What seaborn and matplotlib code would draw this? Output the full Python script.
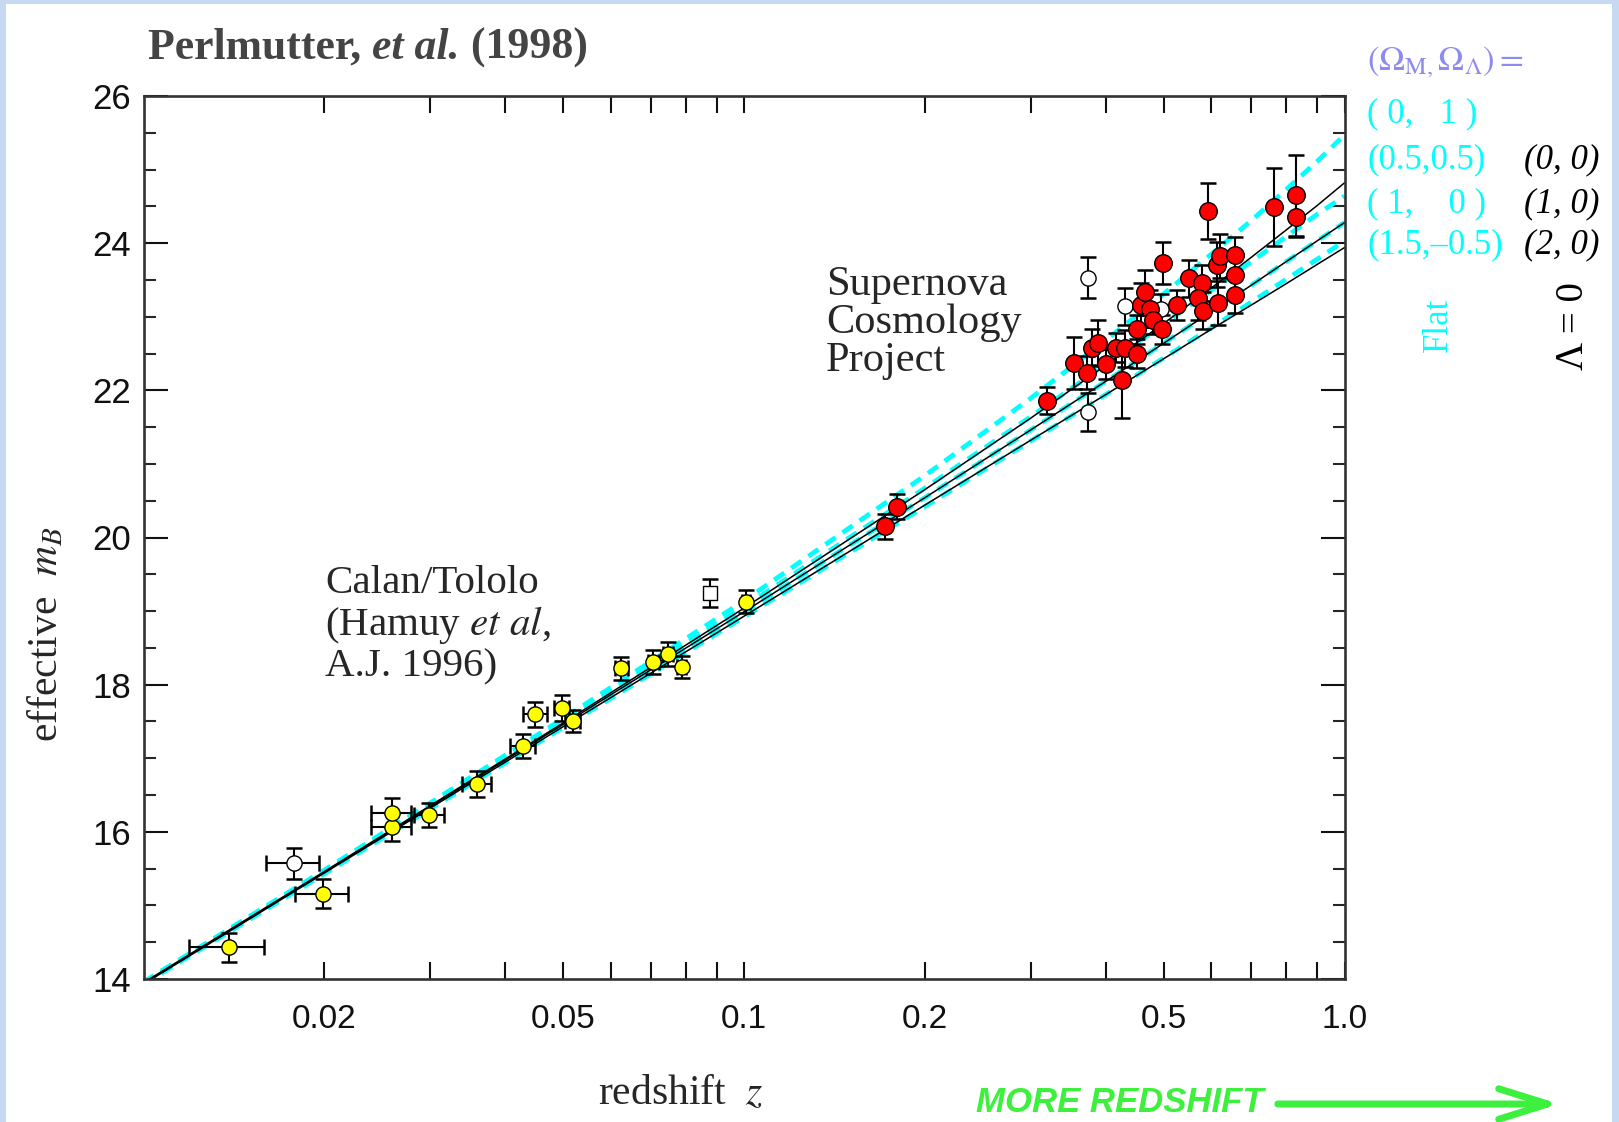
import pandas as pd
import matplotlib
matplotlib.use('Agg')
import matplotlib.pyplot as plt
from matplotlib.ticker import FixedLocator, MultipleLocator, NullFormatter
from matplotlib.patches import Rectangle, FancyArrowPatch
import seaborn as sns

# --- model curves, magnitudes ---
z_model = [0.01, 0.02, 0.05, 0.1, 0.2, 0.3, 0.4, 0.5, 0.6, 0.7, 0.8, 0.9, 1.0]
# Lambda = 0 models (black solid)
m_00 = [13.95, 15.46, 17.48, 19.04, 20.65, 21.62, 22.34, 22.91, 23.39, 23.81, 24.18, 24.51, 24.82]
m_10 = [13.94, 15.45, 17.46, 18.99, 20.54, 21.46, 22.12, 22.64, 23.07, 23.43, 23.75, 24.03, 24.28]
m_20 = [13.93, 15.44, 17.43, 18.93, 20.44, 21.32, 21.94, 22.43, 22.83, 23.16, 23.45, 23.71, 23.94]
# flat models (cyan dashed)
m_f01 = [13.96, 15.48, 17.54, 19.14, 20.84, 21.89, 22.68, 23.31, 23.85, 24.31, 24.73, 25.11, 25.47]
m_f55 = [13.95, 15.47, 17.50, 19.06, 20.67, 21.64, 22.35, 22.90, 23.36, 23.75, 24.09, 24.39, 24.64]
m_f15 = [13.93, 15.43, 17.42, 18.92, 20.42, 21.31, 21.94, 22.44, 22.85, 23.20, 23.51, 23.78, 24.03]

# --- Calan/Tololo supernovae ---
ct_z = [0.0139, 0.0199, 0.0259, 0.0259, 0.0299, 0.0359, 0.0428, 0.0449, 0.0497, 0.0519,
        0.0625, 0.0706, 0.0748, 0.0787, 0.1007]
ct_m = [14.43, 15.16, 16.07, 16.26, 16.23, 16.65, 17.17, 17.60, 17.68, 17.51,
        18.22, 18.31, 18.42, 18.24, 19.13]
ct_merr = [0.20, 0.20, 0.19, 0.20, 0.16, 0.17, 0.16, 0.17, 0.18, 0.15,
           0.15, 0.16, 0.16, 0.15, 0.16]
ct_zerr = [0.0020, 0.0020, 0.0020, 0.0020, 0.0017, 0.0020, 0.0020, 0.0020, 0.0015, 0.0015,
           0.0015, 0.0015, 0.0015, 0.0015, 0.0015]
# excluded low-z ones (open)
ct_open_z = [0.0178]
ct_open_m = [15.57]
ct_open_merr = [0.21]
ct_open_zerr = [0.0018]
sq_open_z = [0.0878]
sq_open_m = [19.25]
sq_open_merr = [0.19]

# --- Supernova Cosmology Project ---
scp_z = [0.1717, 0.1797, 0.320, 0.3545, 0.3722, 0.3795, 0.389, 0.401, 0.4165, 0.431,
         0.4256, 0.4508, 0.4508, 0.4584, 0.4655, 0.4746, 0.4806, 0.4972, 0.4985, 0.5256,
         0.5516, 0.5785, 0.571, 0.582, 0.5919, 0.6125, 0.6166, 0.6207, 0.6573, 0.6573,
         0.6573, 0.7643, 0.8307, 0.8307]
scp_m = [20.15, 20.42, 21.86, 22.37, 22.24, 22.58, 22.65, 22.36, 22.58, 22.57,
         22.14, 22.50, 22.83, 23.16, 23.33, 23.11, 22.96, 22.83, 23.73, 23.16,
         23.52, 23.46, 23.26, 23.08, 24.44, 23.71, 23.19, 23.83, 23.84, 23.57,
         23.30, 24.49, 24.65, 24.35]
scp_merr = [0.17, 0.17, 0.18, 0.35, 0.22, 0.25, 0.30, 0.20, 0.20, 0.25,
            0.52, 0.20, 0.20, 0.30, 0.30, 0.25, 0.20, 0.20, 0.29, 0.20,
            0.25, 0.25, 0.30, 0.25, 0.38, 0.30, 0.30, 0.30, 0.25, 0.25,
            0.25, 0.53, 0.55, 0.27]
scp_open_z = [0.3746, 0.3746, 0.431, 0.494]
scp_open_m = [23.53, 21.71, 23.14, 23.11]
scp_open_merr = [0.28, 0.26, 0.25, 0.20]

cyan = '#00ffff'
green = '#3df03d'

sns.set_style('ticks')
plt.rcParams['font.family'] = ['Liberation Serif', 'DejaVu Serif']
plt.rcParams['mathtext.fontset'] = 'stix'

W, H = 1619, 1122
fig = plt.figure(figsize=(W / 100, H / 100), dpi=100)
fig.patch.set_facecolor('#c6d9f0')
fig.add_artist(Rectangle((6 / W, 0), (1612 - 6) / W, 1 - 4 / H, transform=fig.transFigure,
                         facecolor='white', edgecolor='none', zorder=-5))

ax = fig.add_axes([143.5 / W, 1 - 979 / H, (1344.5 - 143.5) / W, (979 - 96) / H])
ax.set_xscale('log')

flat_df = pd.concat([pd.DataFrame({'z': z_model, 'm': m, 'model': name})
                     for name, m in [('0,1', m_f01), ('.5,.5', m_f55), ('1,0', m_10), ('1.5,-.5', m_f15)]])
lam0_df = pd.concat([pd.DataFrame({'z': z_model, 'm': m, 'model': name})
                     for name, m in [('0,0', m_00), ('1,0', m_10), ('2,0', m_20)]])

sns.lineplot(data=flat_df, x='z', y='m', units='model', estimator=None, color=cyan,
             lw=3.4, linestyle=(0, (2.6, 1.8)), legend=False, ax=ax, zorder=1)
sns.lineplot(data=lam0_df, x='z', y='m', units='model', estimator=None, color='black',
             lw=1.1, legend=False, ax=ax, zorder=2)

ebkw = dict(fmt='none', ecolor='black', elinewidth=1.5, capsize=6, capthick=1.8, zorder=3)
ax.errorbar(ct_z, ct_m, xerr=ct_zerr, yerr=ct_merr, **ebkw)
ax.errorbar(ct_open_z, ct_open_m, xerr=ct_open_zerr, yerr=ct_open_merr, **ebkw)
ax.errorbar(sq_open_z, sq_open_m, yerr=sq_open_merr, **ebkw)
ax.errorbar(scp_z, scp_m, yerr=scp_merr, **ebkw)
ax.errorbar(scp_open_z, scp_open_m, yerr=scp_open_merr, **ebkw)

sns.scatterplot(x=ct_z, y=ct_m, color='#ffff00', edgecolor='black', linewidth=1, s=120, zorder=4, ax=ax)
sns.scatterplot(x=ct_open_z + scp_open_z, y=ct_open_m + scp_open_m, color='white',
                edgecolor='black', linewidth=1, s=120, zorder=4, ax=ax)
sns.scatterplot(x=sq_open_z, y=sq_open_m, color='white', marker='s',
                edgecolor='black', linewidth=1, s=90, zorder=4, ax=ax)
sns.scatterplot(x=scp_z, y=scp_m, color='#ff0000', edgecolor='black', linewidth=1, s=160, zorder=4, ax=ax)

ax.set_xlim(0.01, 1.0)
ax.set_ylim(14, 26)
ax.set_xlabel('')
ax.set_ylabel('')

ax.set_xticks([0.02, 0.05, 0.1, 0.2, 0.5, 1.0], ['0.02', '0.05', '0.1', '0.2', '0.5', '1.0'],
              fontfamily='Liberation Sans', fontsize=24)
ax.xaxis.set_minor_locator(FixedLocator([0.03, 0.04, 0.06, 0.07, 0.08, 0.09,
                                         0.3, 0.4, 0.6, 0.7, 0.8, 0.9]))
ax.xaxis.set_minor_formatter(NullFormatter())
ax.set_yticks([14, 16, 18, 20, 22, 24, 26], ['14', '16', '18', '20', '22', '24', '26'],
              fontfamily='Liberation Sans', fontsize=25)
ax.yaxis.set_minor_locator(MultipleLocator(0.5))
ax.tick_params(axis='x', which='both', direction='in', length=12.5, width=1.5,
               top=True, bottom=True, pad=18, colors='#111111')
ax.tick_params(axis='y', which='major', direction='in', length=17, width=1.5,
               left=True, right=True, pad=9, colors='#111111')
ax.tick_params(axis='y', which='minor', direction='in', length=8.5, width=1.5,
               left=True, right=True)
for sp in ax.spines.values():
    sp.set_visible(True)
    sp.set_color('#333333')
    sp.set_linewidth(1.9)

# axis titles
fig.text(46 / W, 1 - 634 / H, 'effective  $m_B$', rotation=90, ha='center', va='center', fontsize=30)
fig.text(681 / W, 18 / H, 'redshift  $z$', ha='center', va='baseline', fontsize=30)

# title with mixed styles
renderer = fig.canvas.get_renderer()
x0 = 148 / W
for s, st in [('Perlmutter, ', 'normal'), ('et al.', 'italic'), (' (1998)', 'normal')]:
    t = fig.text(x0, 1 - 59 / H, s, fontsize=31.5, fontweight='bold', style=st,
                 color='#444444', va='baseline', ha='left')
    x0 += t.get_window_extent(renderer).width / fig.bbox.width

# sample annotations
fig.text(325 / W, 1 - 565 / H, 'Calan/Tololo\n(Hamuy $et\\ al$,\nA.J. 1996)',
         fontsize=29.5, va='top', ha='left', linespacing=1.08)
fig.text(826 / W, 1 - 266 / H, 'Supernova\nCosmology\nProject',
         fontsize=30.5, va='top', ha='left', linespacing=0.98)

# model key on the right
fig.text(1367 / W, 1 - 62 / H, r'$(\Omega_{\rm M,}\Omega_\Lambda) =$', color='#8c8cf0',
         fontsize=25, va='center', ha='left')
flat_labels = ['( 0,   1 )', '(0.5,0.5)', '( 1,    0 )', '(1.5,\u20130.5)']
lam0_labels = ['(0, 0)', '(1, 0)', '(2, 0)']
key_y = [114, 160, 204, 245]
for lab, yy in zip(flat_labels, key_y):
    fig.text(1367 / W, 1 - yy / H, lab, color=cyan, fontsize=25, va='center', ha='left')
for lab, yy in zip(lam0_labels, key_y[1:]):
    fig.text(1524 / W, 1 - yy / H, lab, color='black', fontsize=25, style='italic',
             va='center', ha='left')
fig.text(1438 / W, 1 - 325 / H, 'Flat', color=cyan, fontsize=25, rotation=90, ha='center', va='center')
fig.text(1573 / W, 1 - 326 / H, '\u039b = 0', color='black', fontsize=28, rotation=90,
         ha='center', va='center')

# more redshift arrow
fig.text(976 / W, 1 - 1103 / H, 'MORE REDSHIFT', color=green, fontsize=25, fontweight='bold',
         style='italic', family='Liberation Sans', va='center', ha='left')
fig.add_artist(FancyArrowPatch((1275 / W, 1 - 1104 / H), (1562 / W, 1 - 1104 / H),
                               transform=fig.transFigure, arrowstyle='->,head_length=1.6,head_width=0.5',
                               mutation_scale=22, lw=5, color=green))

fig.savefig('out.png', dpi=100)
